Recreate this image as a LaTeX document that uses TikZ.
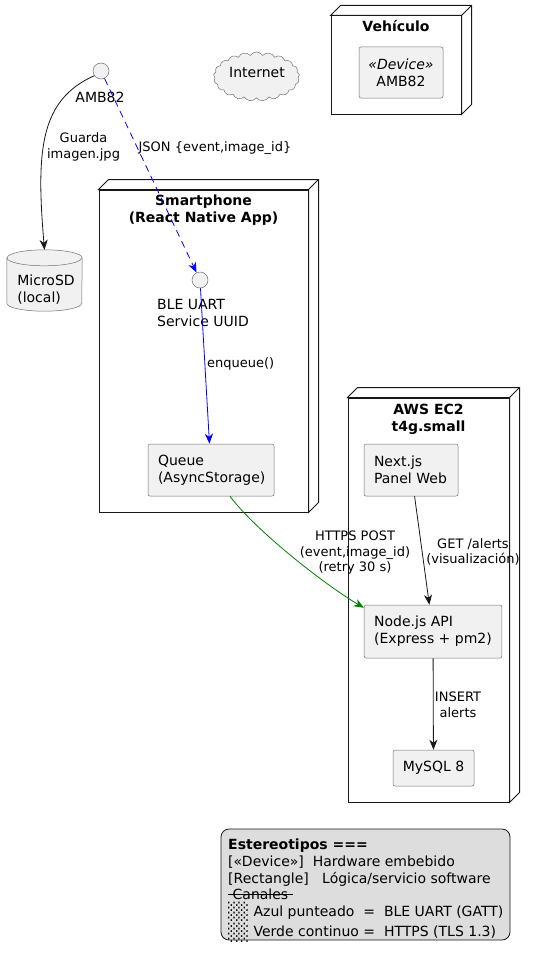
\documentclass[tikz,border=0pt]{standalone}
\usepackage{fontspec}
\usepackage{graphicx}
\setmainfont{DejaVu Sans}
\usetikzlibrary{shapes.symbols,arrows.meta,calc}
\definecolor{elfill}{HTML}{F1F1F1}
\definecolor{elline}{HTML}{707070}
\definecolor{lnk}{HTML}{181818}
\definecolor{legfill}{HTML}{DDDDDD}
\definecolor{pgreen}{HTML}{008000}
\definecolor{pblue}{HTML}{0000FF}
\newcommand\strk[1]{\leavevmode\setbox0\hbox{#1}\rlap{\rule[0.32em]{\wd0}{0.7pt}}\box0}
\newcommand\shade{\raisebox{-1.5pt}{\scalebox{1}[1.18]{░\kern-0.6pt░}}}
\newcommand\boxdepth[1]{%
  \filldraw[draw=lnk, fill=white, line width=1pt, line join=miter]
    (#1.north west) -- ++(10,-10) -- ($(#1.north east)+(10,-10)$) -- ($(#1.south east)+(10,-10)$)
    -- (#1.south east) -- (#1.north east) -- cycle;
  \draw[lnk, line width=1pt] (#1.north east) -- ++(10,-10);}
\begin{document}
\begin{tikzpicture}[x=1pt,y=-1pt,
 every node/.style={font=\fontsize{14}{17}\selectfont},
 elem/.style={draw=elline, fill=elfill, line width=0.5pt, rounded corners=2pt, inner xsep=10pt, inner ysep=0pt, align=left},
 frontface/.style={draw=lnk, line width=1pt, fill=white, inner sep=0},
 nodetitle/.style={font=\bfseries\fontsize{14}{17}\selectfont, align=center, anchor=north, inner sep=0},
 iface/.style={circle, draw=elline, fill=elfill, line width=0.5pt, minimum size=16pt, inner sep=0},
 lbl/.style={font=\fontsize{13}{15.5}\selectfont, align=center, inner sep=1pt},
 arr/.style={-{Stealth[length=10pt,width=8pt,inset=3pt]}, line width=0.8pt, draw=lnk},
]
\useasboundingbox (0,0) rectangle (534,958);

% 3D nodes
\node[frontface, minimum width=130pt, minimum height=98pt] (veh) at (396,65) {};
\boxdepth{veh}
\node[frontface, minimum width=209pt, minimum height=322pt] (phone) at (203.5,351) {};
\boxdepth{phone}
\node[frontface, minimum width=161pt, minimum height=404pt] (aws) at (428.5,600) {};
\boxdepth{aws}

\node[nodetitle] (vehT) at ($(veh.north)+(0,5)$) {Vehículo};
\node[nodetitle] (phoneT) at ($(phone.north)+(0,5)$) {Smartphone\\(React Native App)};
\node[nodetitle] (awsT) at ($(aws.north)+(0,6)$) {AWS EC2\\t4g.small};

% elements
\node[elem, align=center, inner xsep=0pt, minimum width=84pt, minimum height=51pt] (dev) at (401,72.5) {\textit{«Device»}\\AMB82};
\node[elem, text width=106pt, minimum height=52pt] (queue) at (211,470) {Queue\\(AsyncStorage)};
\node[elem, text width=74pt, minimum height=52pt] (next) at (411,470) {Next.js\\Panel Web};
\node[elem, minimum height=53pt] (api) at (433,631.5) {Node.js API\\(Express + pm2)};
\node[elem, align=center, inner xsep=0pt, minimum width=81pt, minimum height=36pt] (mysql) at (433.5,768) {MySQL 8};

\node[iface] (amb) at (101,71) {};
\node[inner sep=0] (ambL) at (100,97) {AMB82};
\node[iface] (ble) at (200,280) {};
\node[anchor=north west, align=left, inner sep=0] (bleL) at (157,299.5) {BLE UART\\Service UUID};

\node[cloud, cloud puffs=21, cloud puff arc=115, aspect=2.1, draw=elline, fill=elfill, line width=0.5pt,
      minimum width=86pt, minimum height=49pt, inner sep=0] (inet) at (256.5,76.5) {};
\node[inner sep=0] (inetT) at (257,72) {Internet};

% database
\node[minimum width=75pt, minimum height=61pt, inner sep=0] (sd) at (44.5,280.5) {};
\filldraw[draw=elline, fill=elfill, line width=0.5pt]
  ($(sd.north west)+(0,8)$) -- ($(sd.south west)+(0,-8)$)
  arc[start angle=180, end angle=360, x radius=37.5pt, y radius=8pt]
  -- ($(sd.north east)+(0,8)$)
  arc[start angle=0, end angle=180, x radius=37.5pt, y radius=8pt] -- cycle;
\draw[draw=elline, line width=0.5pt] ($(sd.north west)+(0,8)$)
  arc[start angle=180, end angle=360, x radius=37.5pt, y radius=8pt];
\node[align=left, inner sep=0] (sdT) at ($(sd.center)+(1.5,9)$) {MicroSD\\(local)};

% connectors
\draw[arr] (amb.215) .. controls (40,100) and (36,150) .. (sd.north);
\draw[arr, draw=pblue, dash pattern=on 7pt off 5pt] (amb) -- (ble);
\draw[arr, draw=pblue] (ble) -- (queue);
\draw[arr, draw=pgreen] ($(queue.south)+(19,0)$) .. controls (255,530) and (325,585) .. ($(api.north west)+(0,3)$);
\draw[arr] (next) -- (api);
\draw[arr] (api) -- (mysql);

% labels
\node[lbl] (l1) at (83.5,147) {Guarda\\imagen.jpg};
\node[lbl] (l2) at (215,148) {JSON \{event,image\_id\}};
\node[lbl, anchor=west, inner sep=0] (l3) at (207,364) {enqueue()};
\node[lbl] (l4) at (355,553) {HTTPS POST\\(event,image\_id)\\(retry 30 s)};
\node[lbl] (l5) at (473,552) {GET /alerts\\(visualización)};
\node[lbl] (l6) at (458,705) {INSERT\\alerts};

% legend
\node[draw=lnk, fill=legfill, line width=0.8pt, rounded corners=8pt, minimum width=289pt, minimum height=111pt,
      inner sep=0] (legend) at (365.5,884.5) {};
\node[anchor=north west, inner sep=0, align=left, font=\fontsize{14}{16.6}\selectfont] (legT) at (228,839)
  {\textbf{Estereotipos ===}\\\relax
   [«Device»]\ \ Hardware embebido\\\relax
   [Rectangle]\ \ \ Lógica/servicio software\\\relax
   \strk{\ Canales\ }\\\relax
   \shade\ Azul punteado\ \ =\ \ BLE UART (GATT)\\\relax
   \shade\ Verde continuo\ =\ \ HTTPS (TLS 1.3)};
\end{tikzpicture}
\end{document}
